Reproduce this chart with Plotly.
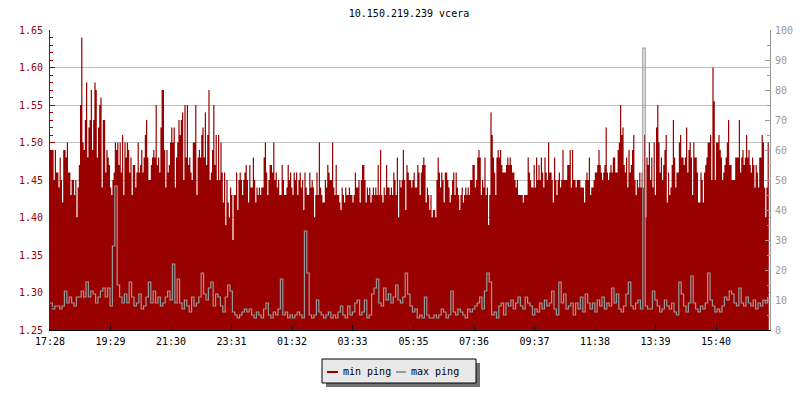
import numpy as np
import pandas as pd
import plotly.graph_objects as go

title_text = "10.150.219.239 vcera"
start_time = "2024-01-15 17:28"
x_tick_labels = ["17:28", "19:29", "21:30", "23:31", "01:32", "03:33",
                 "05:35", "07:36", "09:37", "11:38", "13:39", "15:40"]
series_names = ["min ping", "max ping"]

# min ping (left axis, ms) - 600 samples over 24 h
min_ping = [
    1.49, 1.49, 1.49, 1.45, 1.49, 1.46, 1.46, 1.44, 1.48, 1.45,
    1.42, 1.49, 1.49, 1.48, 1.50, 1.46, 1.46, 1.43, 1.45, 1.45,
    1.43, 1.45, 1.40, 1.44, 1.47, 1.55, 1.64, 1.50, 1.49, 1.53,
    1.58, 1.48, 1.52, 1.53, 1.57, 1.49, 1.53, 1.58, 1.57, 1.48,
    1.52, 1.55, 1.56, 1.44, 1.53, 1.53, 1.46, 1.49, 1.48, 1.47,
    1.44, 1.43, 1.45, 1.46, 1.50, 1.49, 1.50, 1.47, 1.50, 1.46,
    1.51, 1.43, 1.50, 1.48, 1.50, 1.49, 1.46, 1.48, 1.43, 1.47,
    1.47, 1.44, 1.46, 1.50, 1.46, 1.47, 1.49, 1.46, 1.48, 1.51,
    1.53, 1.48, 1.45, 1.45, 1.47, 1.48, 1.49, 1.48, 1.55, 1.47,
    1.48, 1.46, 1.52, 1.57, 1.57, 1.49, 1.44, 1.49, 1.46, 1.47,
    # 2
    1.50, 1.52, 1.50, 1.52, 1.44, 1.48, 1.50, 1.53, 1.51, 1.53,
    1.54, 1.45, 1.55, 1.48, 1.55, 1.47, 1.48, 1.46, 1.45, 1.50,
    1.50, 1.55, 1.43, 1.48, 1.49, 1.48, 1.51, 1.52, 1.48, 1.54,
    1.47, 1.51, 1.57, 1.45, 1.46, 1.49, 1.55, 1.47, 1.51, 1.45,
    1.51, 1.45, 1.50, 1.46, 1.42, 1.46, 1.39, 1.45, 1.42, 1.40,
    1.44, 1.43, 1.37, 1.43, 1.43, 1.46, 1.41, 1.45, 1.46,
    1.45, 1.43, 1.45, 1.46, 1.47, 1.45, 1.42, 1.47, 1.44,
    1.44, 1.48, 1.45, 1.42, 1.44, 1.43, 1.44, 1.43, 1.44,
    1.44, 1.48, 1.50, 1.46, 1.43, 1.45, 1.47, 1.47, 1.46,
    1.50, 1.45, 1.46, 1.44, 1.45, 1.43, 1.43, 1.47, 1.45,
    1.43, 1.43, 1.44, 1.47, 1.45,
    # 3
    1.46, 1.44, 1.43, 1.46, 1.45, 1.46, 1.43, 1.45, 1.46, 1.44,
    1.45, 1.41, 1.46, 1.44, 1.43, 1.43, 1.46, 1.44, 1.45, 1.44,
    1.40, 1.43, 1.46, 1.43, 1.50, 1.44, 1.43, 1.42, 1.42, 1.45,
    1.44, 1.47, 1.46, 1.45, 1.45, 1.50, 1.44, 1.43, 1.47, 1.43,
    1.43, 1.42, 1.41, 1.44, 1.43, 1.42, 1.44, 1.43, 1.43, 1.44,
    1.43, 1.43, 1.42, 1.43, 1.46, 1.44, 1.44, 1.45, 1.42, 1.45,
    1.47, 1.47, 1.45, 1.42, 1.44, 1.43, 1.44, 1.42, 1.43, 1.44,
    1.43, 1.44, 1.43, 1.47, 1.43, 1.49, 1.43, 1.42, 1.44, 1.43,
    1.47, 1.44, 1.44, 1.43, 1.44, 1.43, 1.46, 1.45, 1.43, 1.48,
    1.40, 1.45, 1.44, 1.45, 1.49, 1.45, 1.41, 1.47, 1.46, 1.45,
    # 4
    1.45, 1.44, 1.45, 1.46, 1.44, 1.44, 1.47, 1.46, 1.43, 1.46,
    1.47, 1.48, 1.47, 1.42, 1.44, 1.43, 1.41, 1.43, 1.40, 1.41,
    1.41, 1.40, 1.45, 1.48, 1.46, 1.44, 1.46, 1.45, 1.42, 1.46,
    1.46, 1.45, 1.44, 1.42, 1.43, 1.45, 1.46, 1.43, 1.46, 1.44,
    1.43, 1.41, 1.43, 1.44, 1.42, 1.43, 1.44, 1.43, 1.44, 1.43,
    1.45, 1.45, 1.47, 1.47, 1.44, 1.45, 1.48, 1.49, 1.48, 1.43,
    1.45, 1.44, 1.48, 1.43, 1.44, 1.39, 1.43, 1.54, 1.51, 1.48,
    1.46, 1.43, 1.48, 1.49, 1.48, 1.49, 1.47, 1.46, 1.46, 1.46,
    1.47, 1.48, 1.47, 1.48, 1.47, 1.46, 1.46, 1.45, 1.44, 1.45,
    1.43, 1.43, 1.43, 1.43, 1.42, 1.43, 1.43, 1.43, 1.48, 1.46,
    # 5
    1.45, 1.44, 1.44, 1.47, 1.44, 1.48, 1.45, 1.47, 1.45, 1.48,
    1.46, 1.44, 1.48, 1.46, 1.45, 1.50, 1.46, 1.46, 1.45, 1.42,
    1.48, 1.45, 1.43, 1.45, 1.46, 1.44, 1.45, 1.49, 1.45, 1.45,
    1.45, 1.47, 1.47, 1.49, 1.44, 1.49, 1.45, 1.45, 1.44, 1.45,
    1.45, 1.45, 1.44, 1.44, 1.44, 1.42, 1.45, 1.46, 1.45, 1.48,
    1.43, 1.44, 1.44, 1.45, 1.46, 1.46, 1.47, 1.49, 1.47, 1.46,
    1.45, 1.46, 1.47, 1.52, 1.46, 1.45, 1.46, 1.47, 1.46, 1.48,
    1.48, 1.46, 1.46, 1.49, 1.50, 1.55, 1.51, 1.52, 1.47, 1.46,
    1.48, 1.44, 1.49, 1.46, 1.47, 1.49, 1.51, 1.45, 1.43, 1.45,
    1.44, 1.46, 1.44, 1.46, 1.44, 1.51, 1.40, 1.48, 1.47, 1.50,
    # 6
    1.45, 1.48, 1.44, 1.50, 1.43, 1.52, 1.55, 1.50, 1.46, 1.48,
    1.45, 1.47, 1.49, 1.51, 1.42, 1.46, 1.43, 1.44, 1.47, 1.53,
    1.48, 1.44, 1.46, 1.46, 1.50, 1.51, 1.48, 1.48, 1.47, 1.48,
    1.52, 1.46, 1.49, 1.50, 1.48, 1.43, 1.50, 1.48, 1.48, 1.46,
    1.42, 1.42, 1.46, 1.45, 1.42, 1.46, 1.47, 1.48, 1.50, 1.50,
    1.51, 1.45, 1.60, 1.555, 1.45, 1.50, 1.50, 1.51, 1.49, 1.48,
    1.45, 1.46, 1.47, 1.48, 1.50, 1.53, 1.47, 1.47, 1.45, 1.45,
    1.45, 1.48, 1.48, 1.48, 1.53, 1.46, 1.48, 1.49, 1.47, 1.48,
    1.51, 1.48, 1.49, 1.47, 1.46, 1.48, 1.47, 1.44, 1.47, 1.46,
    1.44, 1.48, 1.48, 1.51, 1.50, 1.44, 1.40, 1.44, 1.50, 1.48,
]

# max ping (right axis) - 300 samples over 24 h
max_ping = [
    9, 7, 8, 8, 7, 8, 13, 9, 11, 9, 8, 11, 11, 13, 11, 16, 11, 13, 12, 9,
    11, 13, 14, 11, 14, 8, 28, 48, 15, 11, 9, 12, 9, 16, 11, 8, 9, 12, 7, 8,
    11, 16, 9, 13, 9, 11, 8, 9, 11, 13,
    10, 22, 9, 17, 9, 7, 10, 8, 6, 11, 8, 9, 11, 19, 12, 10, 14, 16, 8, 12,
    11, 8, 6, 11, 15, 13, 6, 5, 4, 5, 6, 7, 6, 7, 5, 4, 6, 5, 4, 7,
    9, 5, 4, 6, 5, 7, 17, 5, 6, 4,
    5, 4, 5, 6, 5, 4, 33, 19, 5, 4, 5, 10, 6, 5, 4, 5, 6, 4, 5, 4,
    6, 8, 5, 4, 8, 5, 6, 9, 10, 5, 6, 10, 4, 5, 12, 14, 17, 9, 8, 14,
    10, 12, 9, 11, 15, 10, 9, 11, 19, 12,
    8, 6, 7, 4, 5, 4, 11, 5, 4, 4, 5, 4, 5, 7, 6, 4, 5, 13, 6, 5,
    7, 6, 5, 4, 7, 6, 7, 8, 9, 11, 7, 13, 19, 16, 5, 6, 4, 8, 9, 5,
    9, 8, 10, 7, 9, 11, 8, 7, 11, 9,
    8, 5, 7, 6, 9, 7, 10, 8, 9, 13, 7, 5, 16, 9, 12, 7, 8, 9, 5, 9,
    7, 11, 6, 12, 9, 7, 9, 6, 10, 8, 11, 7, 9, 8, 14, 9, 12, 7, 6, 8,
    12, 16, 8, 7, 9, 10, 7, 94, 8, 7,
    7, 13, 10, 8, 6, 7, 10, 8, 7, 9, 6, 5, 16, 12, 8, 6, 9, 18, 9, 7,
    6, 8, 7, 9, 19, 10, 8, 6, 7, 6, 8, 11, 10, 13, 12, 9, 8, 14, 9, 8,
    11, 9, 8, 10, 7, 9, 8, 10, 9, 11,
]

RED = "#990000"
GREY = "#999999"
FONT = "DejaVu Sans Mono"

start = pd.Timestamp(start_time)
end = start + pd.Timedelta(days=1)
t_min = start + pd.to_timedelta(np.arange(len(min_ping)) * 1440.0 / len(min_ping), unit="min")
t_max = start + pd.to_timedelta(np.arange(len(max_ping)) * 1440.0 / len(max_ping), unit="min")


def label_to_time(lbl):
    h, m = map(int, lbl.split(":"))
    mins = (h * 60 + m - (start.hour * 60 + start.minute)) % 1440
    return start + pd.Timedelta(minutes=mins)


tick_vals = [label_to_time(l) for l in x_tick_labels]

fig = go.Figure()
fig.add_trace(go.Scatter(
    x=t_min, y=min_ping, name=series_names[0], mode="lines",
    line=dict(color=RED, width=0, shape="hv"),
    fill="tozeroy", fillcolor=RED, yaxis="y",
))
fig.add_trace(go.Scatter(
    x=t_max, y=max_ping, name=series_names[1], mode="lines",
    line=dict(color=GREY, width=1.2, shape="hv"), yaxis="y2",
))

fig.update_layout(
    width=800, height=400,
    margin=dict(l=50, r=30, t=30, b=70, autoexpand=False),
    paper_bgcolor="white", plot_bgcolor="white",
    showlegend=False,
    font=dict(family=FONT, size=10, color="black"),
    title=dict(text=title_text, x=409 / 800, xanchor="center", y=1 - 13.5 / 400,
               yanchor="middle", font=dict(family=FONT, size=10, color="black")),
    xaxis=dict(
        type="date", range=[start, end], tickvals=tick_vals, ticktext=x_tick_labels,
        showline=True, linecolor="black", linewidth=1, mirror=False,
        ticks="inside", ticklen=5, tickcolor="black", showgrid=False, zeroline=False,
        tickfont=dict(family=FONT, size=10, color="black"), automargin=False,
        ticklabelstandoff=2,
    ),
    yaxis=dict(
        range=[1.25, 1.65], tick0=1.25, dtick=0.05, tickformat=".2f",
        showline=True, linecolor=RED, linewidth=1,
        ticks="inside", ticklen=5, tickcolor=RED,
        tickfont=dict(family=FONT, size=10, color=RED),
        showgrid=True, gridcolor="#c0c0c0", gridwidth=1, zeroline=False,
        minor=dict(dtick=0.01, tick0=1.25, ticks="inside", ticklen=3,
                   tickcolor=RED, showgrid=False),
        automargin=False, ticklabelstandoff=4,
    ),
    yaxis2=dict(
        range=[0, 100], dtick=10, overlaying="y", side="right",
        showline=True, linecolor=GREY, linewidth=1,
        ticks="inside", ticklen=5, tickcolor=GREY,
        tickfont=dict(family=FONT, size=10, color=GREY),
        showgrid=False, zeroline=False,
        minor=dict(dtick=5, ticks="inside", ticklen=3, tickcolor=GREY, showgrid=False),
        automargin=False, ticklabelstandoff=2,
    ),
)


# custom legend box with drop shadow (below the plot)
def px_x(p):
    return (p - 50) / 720.0


def px_y(p):
    return (330 - p) / 300.0


shapes = [
    dict(type="rect", xref="paper", yref="paper", x0=px_x(326), x1=px_x(480),
         y0=px_y(387), y1=px_y(363), fillcolor="#707070", line=dict(width=0)),
    dict(type="rect", xref="paper", yref="paper", x0=px_x(322), x1=px_x(476),
         y0=px_y(383), y1=px_y(359), fillcolor="#e8e8e8", line=dict(color="black", width=1)),
    dict(type="line", xref="paper", yref="paper", x0=px_x(327), x1=px_x(338),
         y0=px_y(372), y1=px_y(372), line=dict(color=RED, width=2)),
    dict(type="line", xref="paper", yref="paper", x0=px_x(396), x1=px_x(406),
         y0=px_y(372), y1=px_y(372), line=dict(color=GREY, width=2)),
]
annotations = [
    dict(text=series_names[0], xref="paper", yref="paper", x=px_x(341), y=px_y(371),
         xanchor="left", yanchor="middle", showarrow=False,
         font=dict(family=FONT, size=10, color="black")),
    dict(text=series_names[1], xref="paper", yref="paper", x=px_x(409), y=px_y(371),
         xanchor="left", yanchor="middle", showarrow=False,
         font=dict(family=FONT, size=10, color="black")),
]
fig.update_layout(shapes=shapes, annotations=annotations)

fig.write_html("out.html", config={"displayModeBar": False},
               post_script="document.body.style.margin='0';")
